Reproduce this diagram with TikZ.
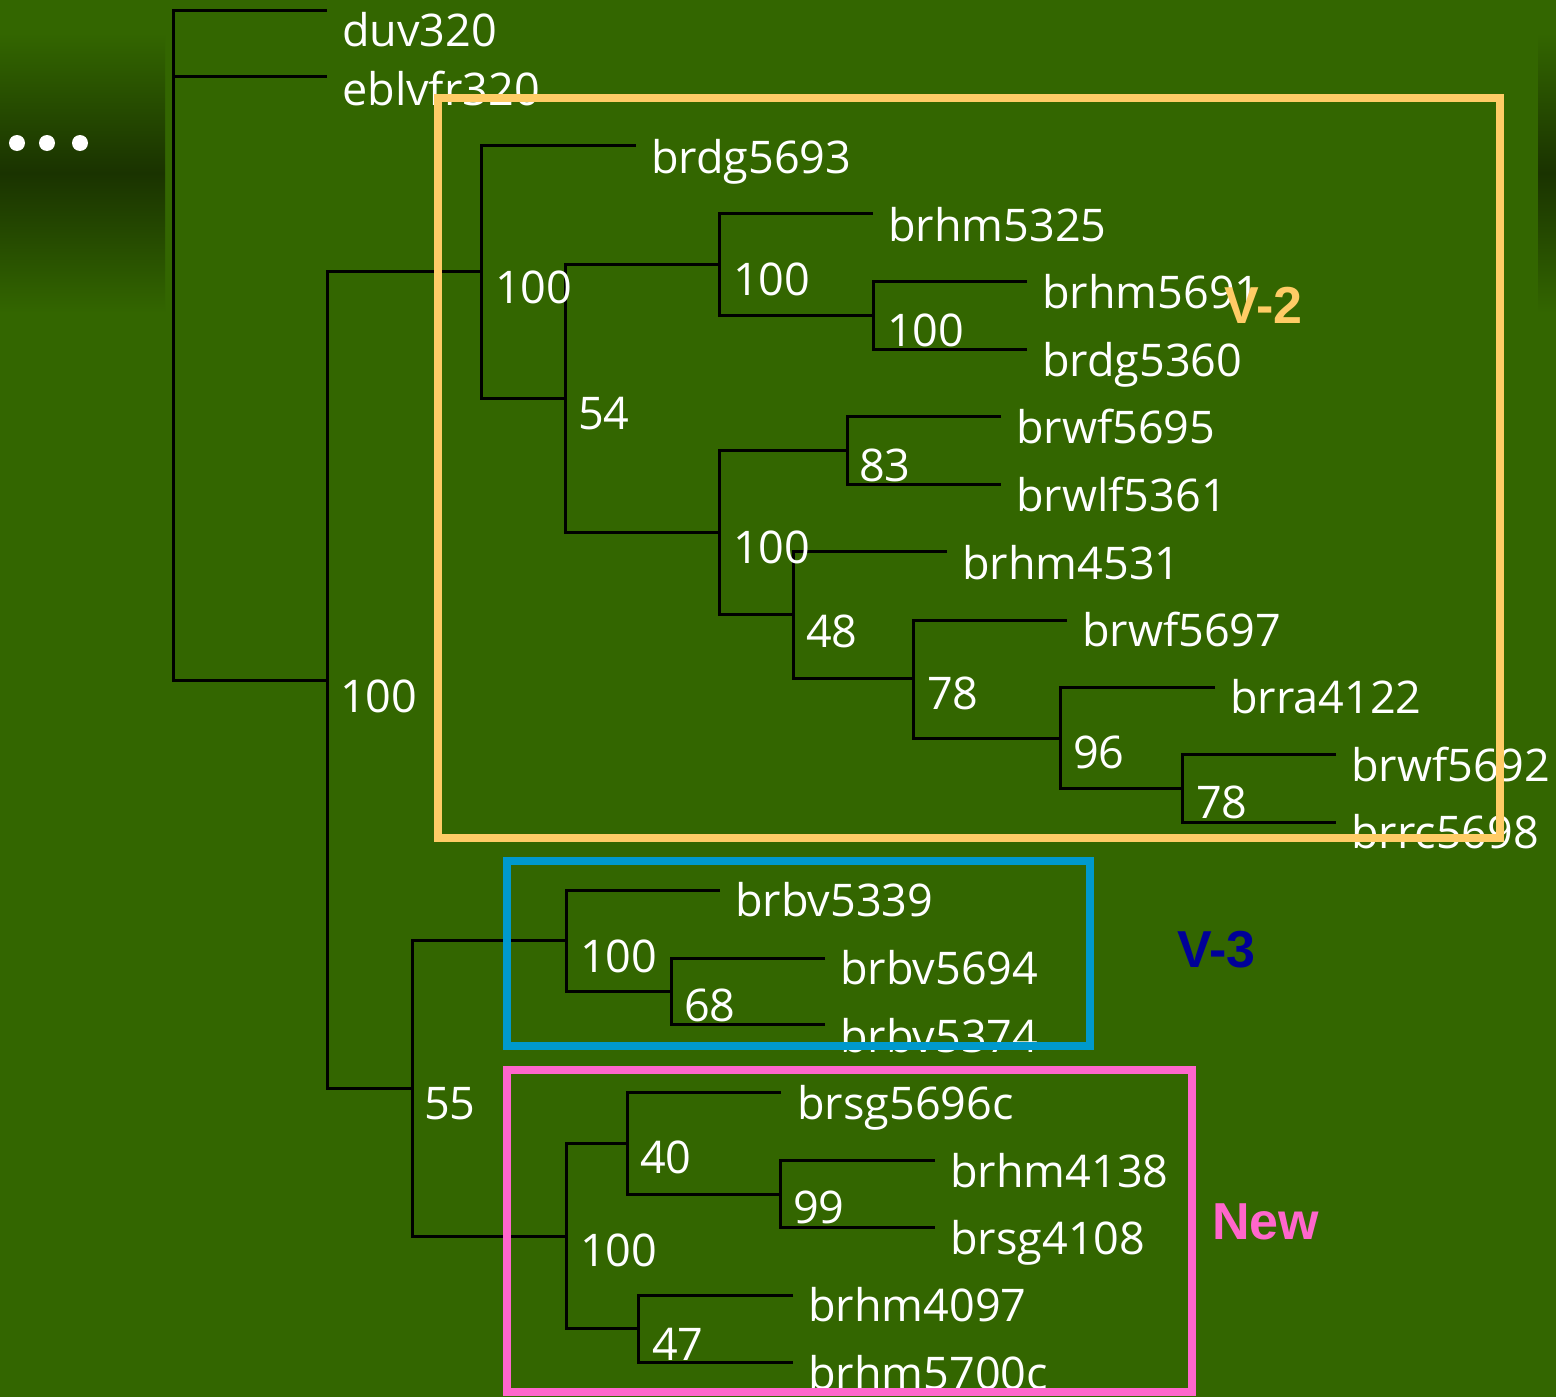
\documentclass[tikz,border=0pt]{standalone}
\usepackage{fontspec}
\setmainfont{Open Sans}
\newfontfamily\boxfont{Liberation Sans}
\definecolor{bggreen}{HTML}{336600}
\definecolor{darkgreen}{HTML}{1A3300}
\definecolor{vtwo}{HTML}{FFCC66}
\definecolor{vthree}{HTML}{0099CC}
\definecolor{newpink}{HTML}{FF66CC}
\definecolor{vthreetxt}{HTML}{000099}
\tikzset{
  br/.style={draw=black, line width=3pt, line join=miter},
  lbl/.style={text=white, inner sep=0pt, anchor=base west, font=\fontsize{45}{50}\selectfont},
  boot/.style={lbl},
  grp/.style={line width=7.5pt},
  grplbl/.style={inner sep=0pt, anchor=base west, font=\boxfont\bfseries\fontsize{52}{56}\selectfont},
}
\begin{document}
\begin{tikzpicture}[x=1pt,y=-1pt]
\useasboundingbox (0,0) rectangle (1556,1397);
\fill[bggreen] (0,0) rectangle (1556,1397);
\shade[top color=bggreen, bottom color=bggreen, middle color=darkgreen] (0,33) rectangle (165,313);
\shade[top color=bggreen, bottom color=bggreen, middle color=darkgreen] (1538,33) rectangle (1556,313);
\foreach \dx in {17,47,80}{ \fill[white] (\dx,143) circle (8); }

% internal nodes (attach points)
\coordinate (root) at (173,680);
\coordinate (A) at (327,680);
\coordinate (B) at (481,271);
\coordinate (C) at (412,1088);
\coordinate (D) at (565,398);
\coordinate (E) at (719,264);
\coordinate (F) at (719,532);
\coordinate (G) at (873,315);
\coordinate (H) at (847,450);
\coordinate (I) at (793,614);
\coordinate (J) at (913,678);
\coordinate (K) at (1060,738);
\coordinate (L) at (1182,788);
\coordinate (M) at (566,940);
\coordinate (N) at (566,1236);
\coordinate (O) at (671,991);
\coordinate (P) at (627,1143);
\coordinate (Q) at (638,1328);
\coordinate (R) at (780,1194);
% tips
\coordinate (t1) at (327,11);
\coordinate (t2) at (327,77);
\coordinate (t3) at (636,145);
\coordinate (t4) at (873,213);
\coordinate (t5) at (1027,281);
\coordinate (t6) at (1027,349);
\coordinate (t7) at (1001,416);
\coordinate (t8) at (1001,484);
\coordinate (t9) at (947,551);
\coordinate (t10) at (1067,620);
\coordinate (t11) at (1215,687);
\coordinate (t12) at (1336,754);
\coordinate (t13) at (1336,822);
\coordinate (t14) at (720,890);
\coordinate (t15) at (825,958);
\coordinate (t16) at (825,1024);
\coordinate (t17) at (781,1092);
\coordinate (t18) at (935,1160);
\coordinate (t19) at (935,1227);
\coordinate (t20) at (793,1295);
\coordinate (t21) at (793,1362);

% branches
\draw[br] (t1) -- (root |- t1) -- (root |- A) -- (A);
\draw[br] (t2) -- (root |- t2);
\draw[br] (B) -- (A |- B) -- (A |- C) -- (C);
\draw[br] (t3) -- (B |- t3) -- (B |- D) -- (D);
\draw[br] (E) -- (D |- E) -- (D |- F) -- (F);
\draw[br] (t4) -- (E |- t4) -- (E |- G) -- (G);
\draw[br] (t5) -- (G |- t5) -- (G |- t6) -- (t6);
\draw[br] (H) -- (F |- H) -- (F |- I) -- (I);
\draw[br] (t7) -- (H |- t7) -- (H |- t8) -- (t8);
\draw[br] (t9) -- (I |- t9) -- (I |- J) -- (J);
\draw[br] (t10) -- (J |- t10) -- (J |- K) -- (K);
\draw[br] (t11) -- (K |- t11) -- (K |- L) -- (L);
\draw[br] (t12) -- (L |- t12) -- (L |- t13) -- (t13);
\draw[br] (M) -- (C |- M) -- (C |- N) -- (N);
\draw[br] (t14) -- (M |- t14) -- (M |- O) -- (O);
\draw[br] (t15) -- (O |- t15) -- (O |- t16) -- (t16);
\draw[br] (P) -- (N |- P) -- (N |- Q) -- (Q);
\draw[br] (t17) -- (P |- t17) -- (P |- R) -- (R);
\draw[br] (t18) -- (R |- t18) -- (R |- t19) -- (t19);
\draw[br] (t20) -- (Q |- t20) -- (Q |- t21) -- (t21);

% tip labels
\node[lbl] (l1) at (342,47) {duv320};
\node[lbl] (l2) at (342,105) {eblvfr320};
\node[lbl] (l3) at (651,173) {brdg5693};
\node[lbl] (l4) at (888,241) {brhm5325};
\node[lbl] (l5) at (1042,308) {brhm5691};
\node[lbl] (l6) at (1042,376) {brdg5360};
\node[lbl] (l7) at (1016,443) {brwf5695};
\node[lbl] (l8) at (1016,511) {brwlf5361};
\node[lbl] (l9) at (962,579) {brhm4531};
\node[lbl] (l10) at (1082,646) {brwf5697};
\node[lbl] (l11) at (1230,713) {brra4122};
\node[lbl] (l12) at (1351,781) {brwf5692};
\node[lbl] (l13) at (1351,848) {brrc5698};
\node[lbl] (l14) at (735,916) {brbv5339};
\node[lbl] (l15) at (840,984) {brbv5694};
\node[lbl] (l16) at (840,1052) {brbv5374};
\node[lbl] (l17) at (797,1119) {brsg5696c};
\node[lbl] (l18) at (950,1187) {brhm4138};
\node[lbl] (l19) at (950,1254) {brsg4108};
\node[lbl] (l20) at (808,1321) {brhm4097};
\node[lbl] (l21) at (808,1389) {brhm5700c};

% bootstrap values
\node[boot] (bA) at (340,712) {100};
\node[boot] (bB) at (495,303) {100};
\node[boot] (bD) at (578,429) {54};
\node[boot] (bE) at (733,295) {100};
\node[boot] (bG) at (887,346) {100};
\node[boot] (bF) at (733,563) {100};
\node[boot] (bH) at (859,481) {83};
\node[boot] (bI) at (806,647) {48};
\node[boot] (bJ) at (927,709) {78};
\node[boot] (bK) at (1073,768) {96};
\node[boot] (bL) at (1196,818) {78};
\node[boot] (bC) at (424,1119) {55};
\node[boot] (bM) at (580,972) {100};
\node[boot] (bO) at (684,1021) {68};
\node[boot] (bN) at (580,1266) {100};
\node[boot] (bP) at (640,1173) {40};
\node[boot] (bR) at (793,1223) {99};
\node[boot] (bQ) at (652,1360) {47};

% group boxes
\draw[grp, draw=vtwo] (438,98) rectangle (1500,838);
\draw[grp, draw=vthree] (507,861) rectangle (1090,1046);
\draw[grp, draw=newpink] (507,1070) rectangle (1192,1392);

\node[grplbl, text=vtwo] (g2) at (1224,323) {V-2};
\node[grplbl, text=vthreetxt] (g3) at (1177,967) {V-3};
\node[grplbl, text=newpink] (g4) at (1212,1239) {New};
\end{tikzpicture}
\end{document}
